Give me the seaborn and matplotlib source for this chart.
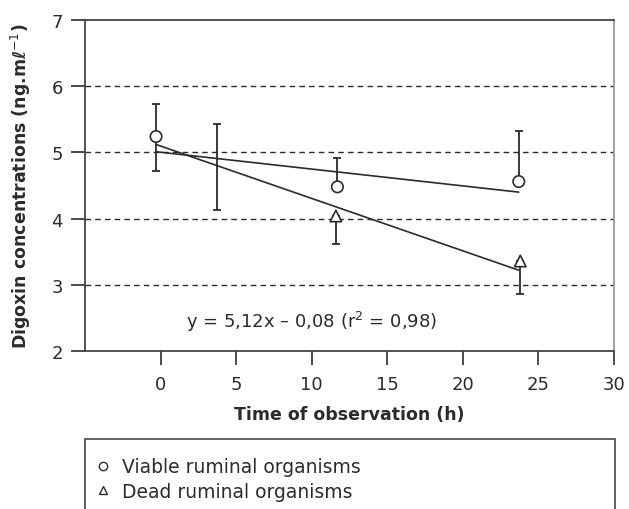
import matplotlib
matplotlib.use("Agg")
import matplotlib.pyplot as plt
from matplotlib.patches import Rectangle
from matplotlib.lines import Line2D
import seaborn as sns
import pandas as pd

# ---- data ----
viable_time = [-0.3, 11.7, 23.7]
viable_conc = [5.24, 4.48, 4.56]
viable_err_low = [0.52, 0.0, 0.0]
viable_err_high = [0.49, 0.44, 0.76]

dead_time = [11.6, 23.8]
dead_conc = [4.04, 3.36]
dead_err_low = [0.42, 0.50]
dead_err_high = [0.0, 0.0]

extra_time = [3.75]
extra_conc = [4.78]
extra_err = [0.65]

fit_time_viable = [-0.3, 23.7]
fit_conc_viable = [5.01, 4.40]
fit_time_dead = [-0.3, 23.7]
fit_conc_dead = [5.12, 3.22]

x_ticks = [0, 5, 10, 15, 20, 25, 30]
y_ticks = [2, 3, 4, 5, 6, 7]
equation = "y = 5,12x – 0,08 (r$^2$ = 0,98)"
legend_labels = ["Viable ruminal organisms", "Dead ruminal organisms"]

sns.set_theme(style="white")
plt.rcParams["font.family"] = ["DejaVu Sans"]
plt.rcParams["mathtext.fontset"] = "dejavusans"

ink = "#2b2b2b"
fig = plt.figure(figsize=(6.29, 5.10), dpi=100)
ax = fig.add_axes([85 / 629, 1 - 352 / 510, 529 / 629, 331 / 510])

# dashed horizontal reference lines
for yv in y_ticks[1:-1]:
    ax.axhline(yv, color=ink, lw=1.0, ls=(0, (4, 3)), zorder=1)

# regression lines
fits = pd.DataFrame({
    "time": fit_time_viable + fit_time_dead,
    "conc": fit_conc_viable + fit_conc_dead,
    "group": ["viable"] * 2 + ["dead"] * 2,
})
sns.lineplot(data=fits, x="time", y="conc", hue="group",
             palette={"viable": ink, "dead": ink}, lw=1.2,
             legend=False, ax=ax, zorder=2)

# error bars
err_kw = dict(fmt="none", ecolor=ink, elinewidth=1.3, capsize=3, capthick=1.3, zorder=3)
ax.errorbar(viable_time, viable_conc, yerr=[viable_err_low, viable_err_high], **err_kw)
ax.errorbar(dead_time, dead_conc, yerr=[dead_err_low, dead_err_high], **err_kw)
ax.errorbar(extra_time, extra_conc, yerr=[extra_err, extra_err], **err_kw)

# markers
pts = pd.DataFrame({
    "time": viable_time + dead_time,
    "conc": viable_conc + dead_conc,
    "group": ["viable"] * len(viable_time) + ["dead"] * len(dead_time),
})
sns.scatterplot(data=pts, x="time", y="conc", style="group",
                markers={"viable": "o", "dead": "^"},
                s=68, facecolor="white", edgecolor=ink, linewidth=1.2,
                legend=False, ax=ax, zorder=4)

ax.text(10.0, 2.45, equation, ha="center", va="center", fontsize=13, color=ink)

ax.set_xlim(-5, 30)
ax.set_ylim(2, 7)
ax.set_xticks(x_ticks)
ax.set_yticks(y_ticks)
ax.tick_params(axis="both", which="major", direction="out", length=10, width=1.2,
               color=ink, labelsize=13, labelcolor=ink, left=True, bottom=True)
ax.tick_params(axis="y", pad=6)
ax.tick_params(axis="x", pad=7)

ax.set_xlabel("Time of observation (h)", fontsize=12.5, fontweight="bold", color=ink, labelpad=9)
ax.set_ylabel("Digoxin concentrations (ng.mℓ$^{-1}$)", fontsize=12.5,
              fontweight="bold", color=ink)
ax.yaxis.set_label_coords(-0.098, 0.5)

for side in ["left", "bottom", "top"]:
    ax.spines[side].set_color("#444444")
    ax.spines[side].set_linewidth(1.3)
ax.spines["right"].set_color("#999999")
ax.spines["right"].set_linewidth(1.3)

# legend box below the plot (extends past the bottom edge)
fig.patches.append(Rectangle((85 / 629, -0.05), 530 / 629, (510 - 440) / 510 + 0.05,
                             transform=fig.transFigure, fill=False,
                             edgecolor="#555555", lw=1.3))
handles = [
    Line2D([], [], ls="none", marker="o", ms=6, mfc="white", mec=ink, mew=1.0),
    Line2D([], [], ls="none", marker="^", ms=6, mfc="white", mec=ink, mew=1.0),
]
fig.legend(handles, legend_labels, loc="upper left",
           bbox_to_anchor=(86 / 629, 1 - 449 / 510), frameon=False,
           fontsize=13.5, handlelength=0.8, handletextpad=0.6,
           labelspacing=0.3, borderpad=0, labelcolor=ink)

fig.savefig("out.png", dpi=100)
